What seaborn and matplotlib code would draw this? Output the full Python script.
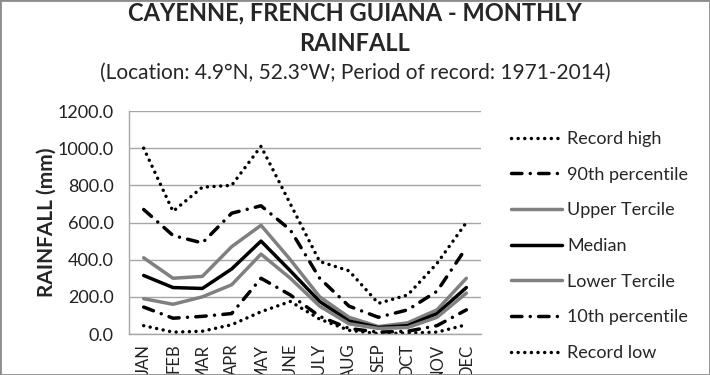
import numpy as np
import pandas as pd
import seaborn as sns
import matplotlib.pyplot as plt
from matplotlib.lines import Line2D
from matplotlib.patches import Rectangle

months = ['JAN', 'FEB', 'MAR', 'APR', 'MAY', 'JUNE', 'JULY', 'AUG', 'SEP', 'OCT', 'NOV', 'DEC']

record_high = [1000, 660, 790, 800, 1010, 700, 390, 340, 165, 210, 380, 600]
p90 = [670, 530, 490, 650, 690, 560, 300, 150, 90, 130, 230, 465]
upper_tercile = [410, 300, 310, 470, 585, 400, 200, 90, 40, 60, 130, 300]
median = [315, 250, 245, 350, 500, 340, 175, 70, 35, 45, 110, 250]
lower_tercile = [190, 160, 200, 265, 430, 300, 150, 55, 30, 35, 90, 220]
p10 = [145, 85, 95, 110, 300, 210, 95, 30, 10, 15, 45, 130]
record_low = [45, 10, 15, 50, 120, 175, 80, 20, 2, 5, 10, 50]

yticks = [0, 200, 400, 600, 800, 1000, 1200]

sns.set_theme(style='white')
plt.rcParams['font.family'] = ['Lato', 'DejaVu Sans']

fig = plt.figure(figsize=(7.1, 3.75), dpi=100)
ax = fig.add_axes([0.1817, 0.1093, 0.4958, 0.5947])

dotted = (0, (0.01, 1.9))
dashdot = (0, (3, 2.4, 0.01, 2.4))
grey = '#808080'

# label, data, colour, linestyle, capstyle
series = [
    ('Record high', record_high, 'black', dotted, 'round'),
    ('90th percentile', p90, 'black', dashdot, 'round'),
    ('Upper Tercile', upper_tercile, grey, '-', 'butt'),
    ('Median', median, 'black', '-', 'butt'),
    ('Lower Tercile', lower_tercile, grey, '-', 'butt'),
    ('10th percentile', p10, 'black', dashdot, 'round'),
    ('Record low', record_low, 'black', dotted, 'round'),
]

handles = []
for label, vals, col, ls, cap in series:
    df = pd.DataFrame({'month': months, 'rain': vals})
    sns.lineplot(data=df, x='month', y='rain', ax=ax, color=col,
                 linewidth=2.5, linestyle=ls, dash_capstyle=cap, sort=False)
    handles.append(Line2D([], [], color=col, linewidth=2.5, linestyle=ls,
                          dash_capstyle=cap, label=label))

ax.set_xlim(-0.5, 11.5)
ax.set_ylim(0, 1200)
ax.set_yticks(yticks)
ax.set_yticklabels([f'{v:.1f}' for v in yticks], fontsize=13, color='#222222')
ax.set_xticks(range(len(months)))
ax.set_xticklabels(months, rotation=90, fontsize=12, color='#222222')
ax.tick_params(axis='y', length=0, pad=11)
ax.tick_params(axis='x', length=0, pad=7)
ax.yaxis.grid(True, color='#a6a6a6', linewidth=1)
ax.set_axisbelow(True)
for s in ['top', 'right']:
    ax.spines[s].set_visible(False)
for s in ['left', 'bottom']:
    ax.spines[s].set_color('#a6a6a6')
    ax.spines[s].set_linewidth(1)
ax.set_xlabel('')
ax.set_ylabel('RAINFALL (mm)', fontsize=15, fontweight='bold', labelpad=1)

ax.legend(handles=handles, loc='upper left', bbox_to_anchor=(0.697, 0.694),
          bbox_transform=fig.transFigure, frameon=False, fontsize=13,
          handlelength=2.8, handletextpad=0.3, labelspacing=1.09)

fig.text(0.5, 0.965, 'CAYENNE, FRENCH GUIANA - MONTHLY', ha='center', va='center',
         fontsize=17, fontweight='bold')
fig.text(0.5, 0.885, 'RAINFALL', ha='center', va='center', fontsize=17, fontweight='bold')
fig.text(0.5, 0.805, '(Location: 4.9°N, 52.3°W; Period of record: 1971-2014)',
         ha='center', va='center', fontsize=15)

fig.patches.append(Rectangle((0, 0), 1, 1, transform=fig.transFigure, fill=False,
                             edgecolor='#8c8c8c', linewidth=2))

fig.savefig('out.png', dpi=100)
